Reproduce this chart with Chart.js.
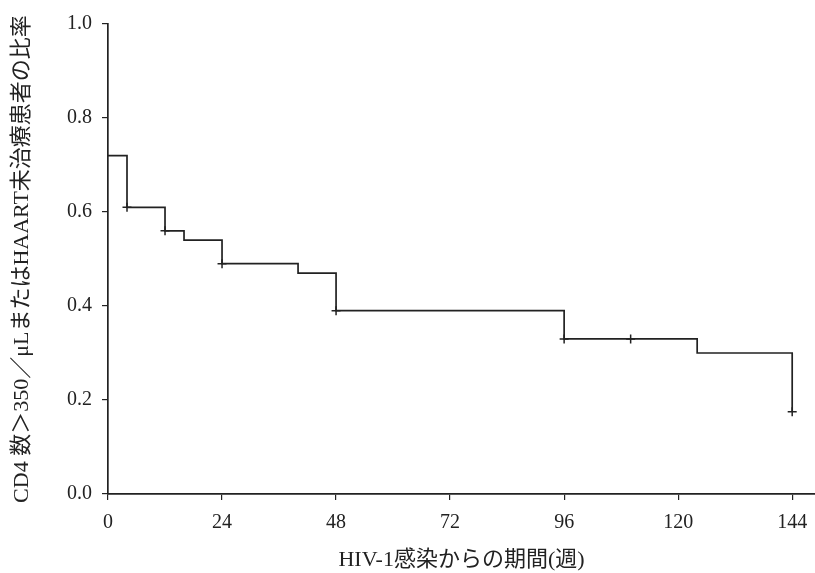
<!DOCTYPE html>
<html>
<head>
<meta charset="utf-8">
<script src="https://cdn.jsdelivr.net/npm/chart.js@4/dist/chart.umd.min.js"></script>
<style>
  html, body { margin: 0; padding: 0; background: #fff; }
  #wrap { width: 815px; height: 573px; position: relative; }
</style>
</head>
<body>
<div id="wrap"><canvas id="c" width="815" height="573"></canvas></div>
<script>
const weeks = [0, 4, 12, 16, 24, 40, 48, 96, 124, 144];
const survival = [0.72, 0.61, 0.56, 0.54, 0.49, 0.47, 0.39, 0.33, 0.30, 0.175];
const censorWeeks = [4, 12, 24, 48, 96, 110, 144];
const censorValues = [0.61, 0.56, 0.49, 0.39, 0.33, 0.33, 0.175];
const xTicks = [0, 24, 48, 72, 96, 120, 144];
const yTicks = [0.0, 0.2, 0.4, 0.6, 0.8, 1.0];
const xTitle = 'HIV-1感染からの期間(週)';
const yTitle = 'CD4 数＞350／μLまたはHAART未治療患者の比率';

const FONT = '"Liberation Serif", "Noto Sans CJK JP", serif';
const INK = '#222';

new Chart(document.getElementById('c'), {
  type: 'line',
  data: {
    datasets: [
      {
        data: weeks.map((w, i) => ({ x: w, y: survival[i] })),
        stepped: true,
        borderColor: INK,
        borderWidth: 1.7,
        pointRadius: 0,
        fill: false
      },
      {
        type: 'scatter',
        data: censorWeeks.map((w, i) => ({ x: w, y: censorValues[i] })),
        pointStyle: 'cross',
        pointRadius: 4.5,
        borderColor: INK,
        borderWidth: 1.5,
        showLine: false
      }
    ]
  },
  options: {
    responsive: false,
    animation: false,
    layout: { autoPadding: false, padding: { top: 24, right: 0, bottom: 0, left: 0 } },
    plugins: { legend: { display: false }, tooltip: { enabled: false } },
    scales: {
      x: {
        type: 'linear',
        min: 0,
        max: 148.8,
        afterFit: s => { s.height = 79; s.paddingRight = 0; s.paddingLeft = 0; },
        afterBuildTicks: s => { s.ticks = xTicks.map(v => ({ value: v })); },
        border: { display: true, color: INK, width: 1.7 },
        grid: { drawOnChartArea: false, drawTicks: true, tickLength: 6, color: INK, lineWidth: 1.2 },
        ticks: {
          color: INK, padding: 11,
          font: { family: FONT, size: 20 },
          maxRotation: 0, autoSkip: false,
          callback: v => String(v)
        },
        title: {
          display: true, text: xTitle, color: INK,
          font: { family: FONT, size: 22 },
          padding: { top: 0, bottom: 0 }
        }
      },
      y: {
        min: 0,
        max: 1,
        afterFit: s => { s.width = 108; s.paddingTop = 0; s.paddingBottom = 0; },
        afterBuildTicks: s => { s.ticks = yTicks.map(v => ({ value: v })); },
        border: { display: true, color: INK, width: 1.7 },
        grid: { drawOnChartArea: false, drawTicks: true, tickLength: 6, color: INK, lineWidth: 1.2 },
        ticks: {
          color: INK, padding: 10,
          font: { family: FONT, size: 20 },
          autoSkip: false,
          callback: v => Number(v).toFixed(1)
        },
        title: {
          display: true, text: yTitle, color: INK,
          font: { family: FONT, size: 22 },
          padding: { top: 9, bottom: 0 }
        }
      }
    }
  }
});
</script>
</body>
</html>
